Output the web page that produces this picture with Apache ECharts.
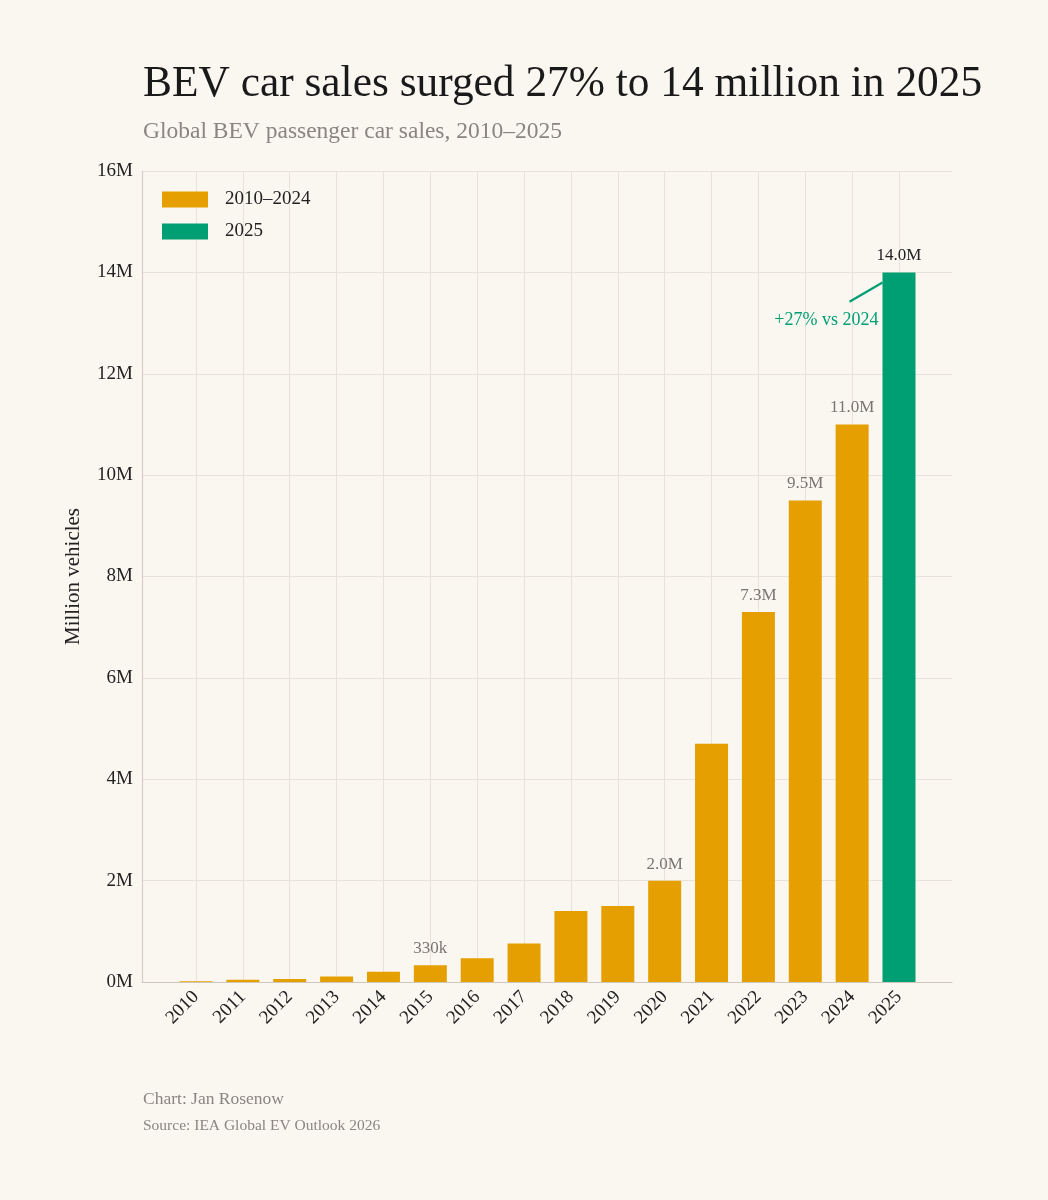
<!DOCTYPE html>
<html>
<head>
<meta charset="utf-8">
<script src="https://cdn.jsdelivr.net/npm/echarts@6/dist/echarts.min.js"></script>
<style>
html,body{margin:0;padding:0;background:#FAF7F1;}
#chart{width:1048px;height:1200px;}
</style>
</head>
<body>
<div id="chart"></div>
<script>
const years = ['2010','2011','2012','2013','2014','2015','2016','2017','2018','2019','2020','2021','2022','2023','2024','2025'];
const sales = [0.015,0.045,0.06,0.11,0.2,0.33,0.47,0.76,1.4,1.5,2.0,4.7,7.3,9.5,11.0,14.0];
const labelYears = ['2015','2020','2022','2023','2024'];
const labelTexts = ['330k','2.0M','7.3M','9.5M','11.0M'];
const highlightYear = '2025';
const highlightLabel = '14.0M';
const seriesNames = ['2010–2024','2025'];
const yTicks = [0,2,4,6,8,10,12,14,16];
const annotationText = '+27% vs 2024';

const FONT = '"Liberation Serif", "DejaVu Serif", serif';
const ORANGE = '#E69F00', GREEN = '#009E73';

const baseData = years.map((y,i) => {
  if (y === highlightYear) return null;
  const li = labelYears.indexOf(y);
  const item = {value: sales[i]};
  if (li >= 0) item.label = {show: true, formatter: labelTexts[li]};
  return item;
});
const hiData = years.map((y,i) => y === highlightYear ? {value: sales[i], label:{show:true, formatter: highlightLabel}} : null);

const chart = echarts.init(document.getElementById('chart'));
const option = {
  backgroundColor: '#FAF7F1',
  animation: false,
  textStyle: {fontFamily: FONT},
  title: [
    {text: 'BEV car sales surged 27% to 14 million in 2025', left: 143, top: 63, padding: 0,
     textStyle: {fontFamily: FONT, fontSize: 43.4, fontWeight: 'normal', color: '#1a1a1a'}},
    {text: 'Global BEV passenger car sales, 2010–2025', left: 143, top: 120, padding: 0,
     textStyle: {fontFamily: FONT, fontSize: 23.5, fontWeight: 'normal', color: '#8a8580'}},
    {text: 'Chart: Jan Rosenow', left: 143, top: 1090, padding: 0,
     textStyle: {fontFamily: FONT, fontSize: 17.5, fontWeight: 'normal', color: '#8a8580'}},
    {text: 'Source: IEA Global EV Outlook 2026', left: 143, top: 1118, padding: 0,
     textStyle: {fontFamily: FONT, fontSize: 15.5, fontWeight: 'normal', color: '#8a8580'}}
  ],
  legend: {
    orient: 'vertical', left: 162, top: 190, padding: 0, itemWidth: 46, itemHeight: 16, itemGap: 13,
    icon: 'rect', data: seriesNames,
    textStyle: {fontFamily: FONT, fontSize: 19, color: '#222', padding: [0,0,0,12]}
  },
  grid: [
    {left: 142, right: 96, top: 171, bottom: 218},
    {left: 196, right: 149, top: 171, bottom: 218}
  ],
  xAxis: [
    {gridIndex: 0, type: 'value', min: 0, max: 1, axisLabel: {show: false}, axisTick: {show: false},
     splitLine: {show: false}, axisLine: {show: true, lineStyle: {color: '#CFC6BC', width: 1.2}}},
    {gridIndex: 1, type: 'category', data: years, boundaryGap: false,
     axisLine: {show: false}, axisTick: {show: false},
     splitLine: {show: true, lineStyle: {color: '#E9E2DB', width: 1}},
     axisLabel: {rotate: 45, margin: 12, fontFamily: FONT, fontSize: 19, color: '#222', interval: 0}}
  ],
  yAxis: [
    {gridIndex: 0, type: 'value', min: yTicks[0], max: yTicks[yTicks.length-1], interval: yTicks[1]-yTicks[0],
     name: 'Million vehicles', nameLocation: 'middle', nameGap: 58,
     nameTextStyle: {fontFamily: FONT, fontSize: 21, color: '#222'},
     axisLine: {show: true, lineStyle: {color: '#D6CDC4', width: 1.2}}, axisTick: {show: false},
     axisLabel: {formatter: '{value}M', margin: 9, fontFamily: FONT, fontSize: 19, color: '#222'},
     splitLine: {show: true, lineStyle: {color: '#E9E2DB', width: 1}}},
    {gridIndex: 1, type: 'value', min: yTicks[0], max: yTicks[yTicks.length-1], show: false,
     splitLine: {show: false}}
  ],
  series: [
    {name: seriesNames[0], type: 'bar', xAxisIndex: 1, yAxisIndex: 1, stack: 'all', barWidth: 33, clip: false,
     itemStyle: {color: ORANGE}, data: baseData,
     label: {show: false, position: 'top', distance: 8, fontFamily: FONT, fontSize: 17, color: '#7a7570'}},
    {name: seriesNames[1], type: 'bar', xAxisIndex: 1, yAxisIndex: 1, stack: 'all', barWidth: 33, clip: false,
     itemStyle: {color: GREEN}, data: hiData,
     label: {show: false, position: 'top', distance: 8, fontFamily: FONT, fontSize: 17, color: '#222'}}
  ]
};
chart.setOption(option);

// annotation anchored to the 2025 bar
const cx = chart.convertToPixel({xAxisIndex: 1}, highlightYear);
const yEnd = chart.convertToPixel({yAxisIndex: 1}, 13.8);
const yStart = chart.convertToPixel({yAxisIndex: 1}, 13.42);
const yText = chart.convertToPixel({yAxisIndex: 1}, 13.05);
const xEnd = cx - 16.5;
chart.setOption({
  graphic: [
    {type: 'line', shape: {x1: xEnd - 33, y1: yStart, x2: xEnd, y2: yEnd},
     style: {stroke: GREEN, lineWidth: 2.2}, z: 10},
    {type: 'text', x: xEnd - 4, y: yText,
     style: {text: annotationText, fill: GREEN, font: '18px ' + FONT, textAlign: 'right', textVerticalAlign: 'middle'}, z: 10}
  ]
});
</script>
</body>
</html>
